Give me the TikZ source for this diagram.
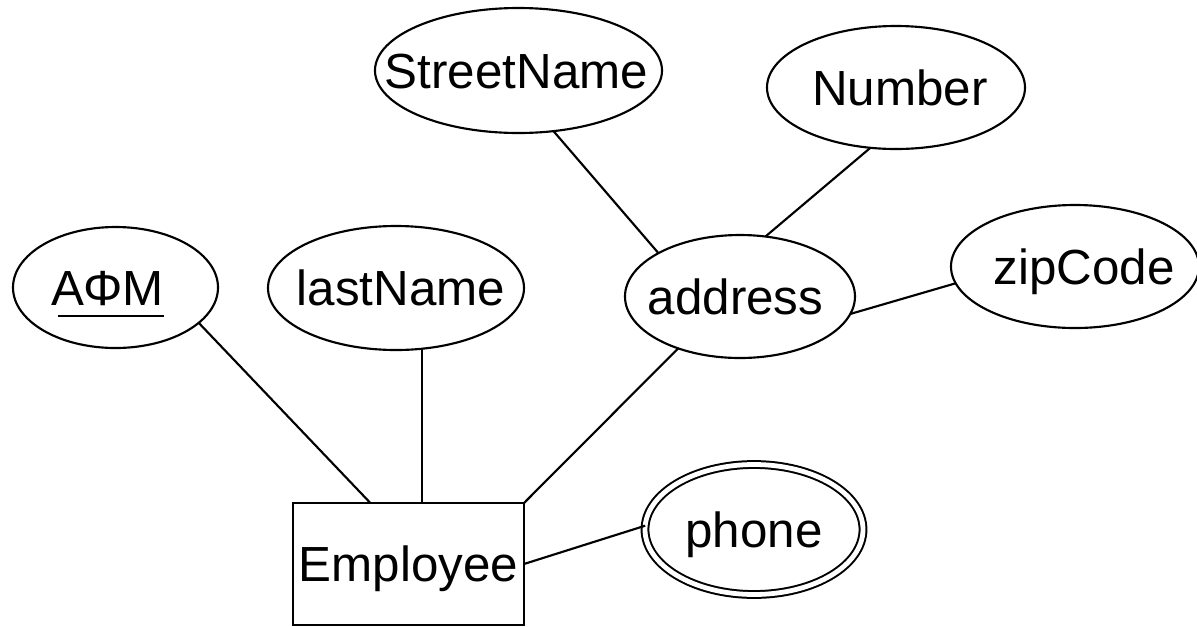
\documentclass[tikz,border=0pt]{standalone}
\usepackage{fontspec}
\setmainfont{Liberation Sans}
\usetikzlibrary{shapes.geometric}
\newcommand{\lbl}[2][0pt]{\makebox[0pt]{\hspace*{#1}\hspace*{#1}#2}}
\begin{document}
\begin{tikzpicture}[x=0.75pt,y=-0.75pt,line width=1.6pt]
\tikzstyle{attr}=[draw,ellipse,inner sep=0pt,outer sep=0pt,text height=26.5pt,text depth=0pt,font=\fontsize{37}{44}\selectfont]
\tikzstyle{multi}=[attr,double,double distance=3.6pt,line width=1.5pt]
\tikzstyle{entity}=[draw,rectangle,inner sep=0pt,outer sep=0pt,text height=26.5pt,text depth=0pt,font=\fontsize{37}{44}\selectfont]
\useasboundingbox (0,0) rectangle (1197,626);
\node[entity,minimum width=173.25pt,minimum height=91.5pt] (emp) at (408.5,564) {\lbl{Employee}};
\node[attr,minimum width=153.75pt,minimum height=90.75pt] (afm) at (115.5,287.5) {\lbl[-6pt]{\rlap{\hspace*{4.5pt}\rule[-8.5pt]{80pt}{1.5pt}}ΑΦΜ}};
\node[attr,minimum width=192pt,minimum height=93pt] (ln) at (396,288) {\lbl[3.75pt]{lastName}};
\node[attr,minimum width=172.5pt,minimum height=92.25pt] (addr) at (740,296.5) {\lbl[-3.4pt]{address}};
\node[attr,minimum width=215.25pt,minimum height=93.75pt] (sn) at (518.5,70.5) {\lbl[-1.5pt]{StreetName}};
\node[attr,minimum width=193.5pt,minimum height=92.25pt] (num) at (896,87.5) {\lbl[3pt]{Number}};
\node[attr,minimum width=186pt,minimum height=92.25pt] (zip) at (1075,266.5) {\lbl[6.75pt]{zipCode}};
\node[multi,minimum width=163.5pt,minimum height=97.5pt] (phone) at (754,529.5) {\lbl{phone}};
\draw (afm.-23) -- (emp.122);
\draw (ln.-67) -- (ln.-67 |- emp.north);
\draw (addr.-140) -- (emp.north east);
\draw (emp.east) -- (phone.178);
\draw (sn.-60) -- (addr.152);
\draw (num.-113) -- (addr.67);
\draw (addr.-9) -- (zip.-172);
\end{tikzpicture}
\end{document}
